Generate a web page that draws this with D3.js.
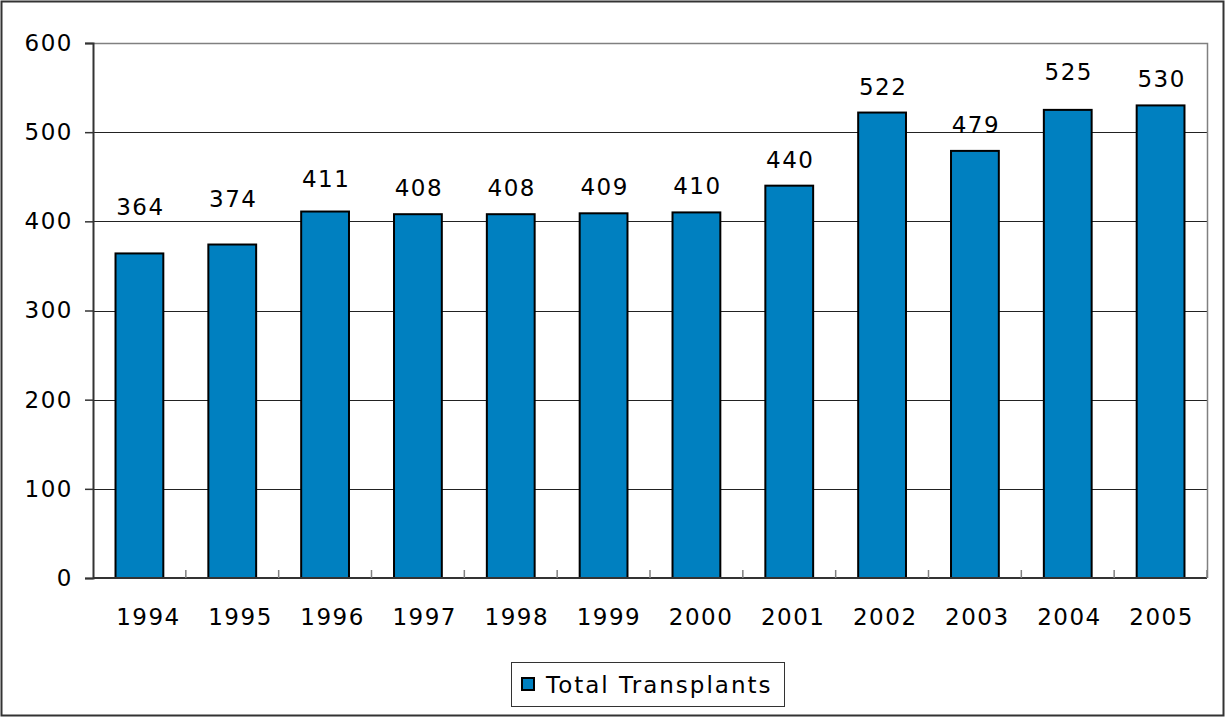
<!DOCTYPE html>
<html>
<head>
<meta charset="utf-8">
<script src="https://cdn.jsdelivr.net/npm/d3@7"></script>
<style>
  body { margin: 0; background: #fff; }
  text { font-family: "DejaVu Sans", Verdana, sans-serif; fill: #000; }
</style>
</head>
<body>
<div id="chart"></div>
<script>
//************************************************************************
// data
//************************************************************************
var years = ["1994", "1995", "1996", "1997", "1998", "1999",
             "2000", "2001", "2002", "2003", "2004", "2005"];
var transplants = [364, 374, 411, 408, 408, 409, 410, 440, 522, 479, 525, 530];
var yTicks = [0, 100, 200, 300, 400, 500, 600];
var seriesName = "Total Transplants";

// extra lift for the labels that were dragged upward in the original
var labelLift = [20, 20, 7, 0, 0, 0, 0, 0, 0, 0, 12, 0];

//************************************************************************
// display settings
//************************************************************************
var svgWidth = 1225;
var svgHeight = 717;
var plot = { left: 93, right: 1207, top: 43, bottom: 578 };
var barColor = "#0080c0";
var fontSize = 23;
var spacing = "1.5px";

var svg = d3.select("#chart")
  .append("svg")
  .attr("width", svgWidth)
  .attr("height", svgHeight);

// outer chart border
svg.append("rect")
  .attr("x", 1.5).attr("y", 1.5)
  .attr("width", svgWidth - 3).attr("height", svgHeight - 3)
  .attr("fill", "#fff")
  .attr("stroke", "#333")
  .attr("stroke-width", 2);

//************************************************************************
// scales
//************************************************************************
var x = d3.scaleBand()
  .domain(years)
  .range([plot.left, plot.right])
  .padding(0);

var y = d3.scaleLinear()
  .domain([0, 600])
  .range([plot.bottom, plot.top]);

var barW = x.bandwidth() * 0.515;

//************************************************************************
// gridlines + plot frame
//************************************************************************
svg.append("g")
  .selectAll("line")
  .data(yTicks.filter(d => d > 0 && d < 600))
  .join("line")
  .attr("x1", plot.left).attr("x2", plot.right)
  .attr("y1", d => Math.round(y(d)) + 0.5)
  .attr("y2", d => Math.round(y(d)) + 0.5)
  .attr("stroke", "#222")
  .attr("stroke-width", 1);

// top + right of plot area (gray)
svg.append("path")
  .attr("d", `M${plot.left},${plot.top + 0.5}H${plot.right + 0.5}V${plot.bottom}`)
  .attr("fill", "none")
  .attr("stroke", "#808080")
  .attr("stroke-width", 1.5);

//************************************************************************
// bars
//************************************************************************
svg.append("g")
  .selectAll("rect")
  .data(transplants)
  .join("rect")
  .attr("x", (d, i) => x(years[i]) + (x.bandwidth() - barW) / 2)
  .attr("y", d => y(d))
  .attr("width", barW)
  .attr("height", d => y(0) - y(d))
  .attr("fill", barColor)
  .attr("stroke", "#000")
  .attr("stroke-width", 2);

// value labels
svg.append("g")
  .selectAll("text")
  .data(transplants)
  .join("text")
  .attr("x", (d, i) => x(years[i]) + x.bandwidth() / 2 + 1)
  .attr("y", (d, i) => y(d) - 18 - labelLift[i])
  .attr("text-anchor", "middle")
  .style("font-size", fontSize + "px")
  .style("letter-spacing", spacing)
  .text(d => d);

//************************************************************************
// axes
//************************************************************************
var leftAxis = d3.axisLeft(y)
  .tickValues(yTicks)
  .tickSize(8)
  .tickPadding(12);

var yAxis = svg.append("g")
  .attr("transform", `translate(${plot.left}, 0)`)
  .call(leftAxis);
yAxis.select(".domain").attr("stroke", "#333").attr("stroke-width", 2);
yAxis.selectAll(".tick line").attr("stroke", "#333").attr("stroke-width", 1.5);
yAxis.selectAll(".tick text")
  .style("font-size", fontSize + "px")
  .style("letter-spacing", spacing)
  .attr("font-family", null);

// bottom axis: ticks between categories, pointing up
var xAxisG = svg.append("g");
xAxisG.append("line")
  .attr("x1", plot.left).attr("x2", plot.right)
  .attr("y1", plot.bottom).attr("y2", plot.bottom)
  .attr("stroke", "#333")
  .attr("stroke-width", 2);
xAxisG.selectAll("line.tk")
  .data(years.slice(1).concat(["end"]))
  .join("line")
  .attr("class", "tk")
  .attr("x1", d => d === "end" ? plot.right : x(d))
  .attr("x2", d => d === "end" ? plot.right : x(d))
  .attr("y1", plot.bottom)
  .attr("y2", plot.bottom - 8)
  .attr("stroke", "#808080")
  .attr("stroke-width", 1.5);
xAxisG.selectAll("text")
  .data(years)
  .join("text")
  .attr("x", (d, i) => x(d) + x.bandwidth() / 2 + 8 * (1 - i / 11) + 1)
  .attr("y", 625)
  .attr("text-anchor", "middle")
  .style("font-size", fontSize + "px")
  .style("letter-spacing", spacing)
  .text(d => d);

//************************************************************************
// legend
//************************************************************************
var legend = svg.append("g");
legend.append("rect")
  .attr("x", 511.5).attr("y", 662.5)
  .attr("width", 273).attr("height", 44)
  .attr("fill", "#fff")
  .attr("stroke", "#333")
  .attr("stroke-width", 1);
legend.append("rect")
  .attr("x", 522).attr("y", 678)
  .attr("width", 12).attr("height", 12)
  .attr("fill", barColor)
  .attr("stroke", "#000")
  .attr("stroke-width", 2);
legend.append("text")
  .attr("x", 546)
  .attr("y", 693)
  .style("font-size", fontSize + "px")
  .style("letter-spacing", "2px")
  .text(seriesName);
</script>
</body>
</html>
